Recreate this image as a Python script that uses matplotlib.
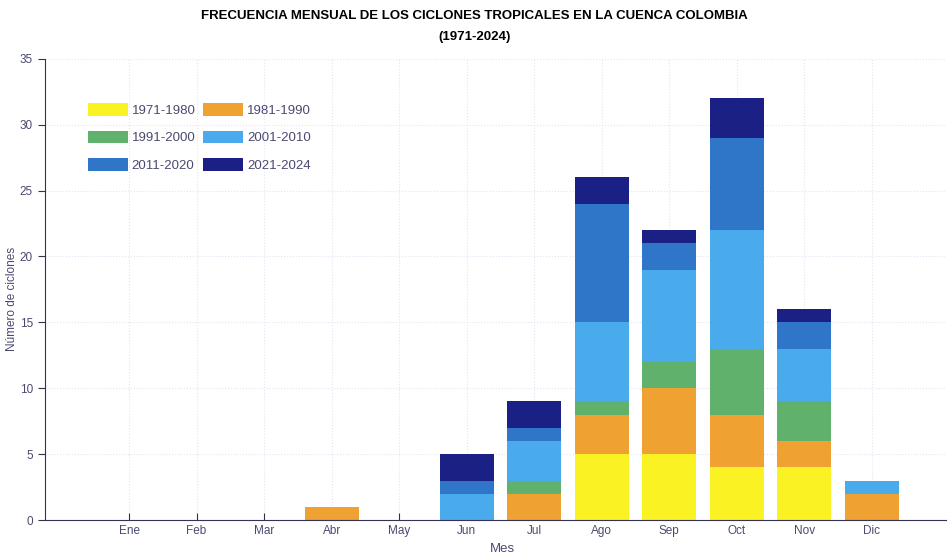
import numpy as np
import matplotlib.pyplot as plt

plt.rcParams['font.family'] = ['Liberation Sans', 'DejaVu Sans']

meses = ['Ene', 'Feb', 'Mar', 'Abr', 'May', 'Jun', 'Jul', 'Ago', 'Sep', 'Oct', 'Nov', 'Dic']
decadas = ['1971-1980', '1981-1990', '1991-2000', '2001-2010', '2011-2020', '2021-2024']

d1971 = [0, 0, 0, 0, 0, 0, 0, 5, 5, 4, 4, 0]
d1981 = [0, 0, 0, 1, 0, 0, 2, 3, 5, 4, 2, 2]
d1991 = [0, 0, 0, 0, 0, 0, 1, 1, 2, 5, 3, 0]
d2001 = [0, 0, 0, 0, 0, 2, 3, 6, 7, 9, 4, 1]
d2011 = [0, 0, 0, 0, 0, 1, 1, 9, 2, 7, 2, 0]
d2021 = [0, 0, 0, 0, 0, 2, 2, 2, 1, 3, 1, 0]

colores = ['#fbf224', '#efa131', '#5fb16b', '#4aabec', '#2f76c8', '#1b2184']
series = [d1971, d1981, d1991, d2001, d2011, d2021]

fig = plt.figure(figsize=(9.49, 5.55), dpi=100)
ax = fig.add_axes([0.047, 0.063, 0.95, 0.831])

x = np.arange(1, 13)
base = np.zeros(12)
handles = []
for vals, lab, col in zip(series, decadas, colores):
    b = ax.bar(x, vals, 0.8, bottom=base, color=col, label=lab, zorder=2)
    handles.append(b)
    base += np.array(vals)

txt = '#4a4a70'
ax.set_xlim(-0.25, 13.1)
ax.set_ylim(0, 35)
ax.set_xticks(x)
ax.set_xticklabels(meses)
ax.set_yticks(range(0, 36, 5))
ax.tick_params(axis='x', direction='in', length=5, colors='#333344', labelcolor=txt, labelsize=8.5)
ax.tick_params(axis='y', direction='out', length=5, colors='#333344', labelcolor=txt, labelsize=8.5)
ax.grid(True, color='#e4e4f4', linestyle=':', linewidth=0.8, zorder=0)
for s in ['top', 'right']:
    ax.spines[s].set_visible(False)
for s in ['left', 'bottom']:
    ax.spines[s].set_color('#333355')

ax.set_ylabel('Número de ciclones', color=txt, fontsize=8.5)
ax.yaxis.set_label_coords(-0.029, 0.48)
ax.set_xlabel('Mes', color=txt, fontsize=9.5)
ax.xaxis.set_label_coords(0.508, -0.05)

# legend filled row by row: reorder for matplotlib's column-major layout
orden = [0, 2, 4, 1, 3, 5]
ax.legend([handles[i] for i in orden], [decadas[i] for i in orden],
          loc='upper left', bbox_to_anchor=(0.035, 0.93), ncol=2, frameon=False,
          fontsize=9.5, handlelength=3.0, handleheight=1.1, handletextpad=0.3,
          columnspacing=0.6, labelspacing=1.05, labelcolor=txt)

fig.text(0.5, 0.972, 'FRECUENCIA MENSUAL DE LOS CICLONES TROPICALES EN LA CUENCA COLOMBIA',
         ha='center', va='center', fontsize=9.5, fontweight='bold')
fig.text(0.5, 0.933, '(1971-2024)', ha='center', va='center', fontsize=9.5, fontweight='bold')

plt.savefig('out.png', dpi=100)
